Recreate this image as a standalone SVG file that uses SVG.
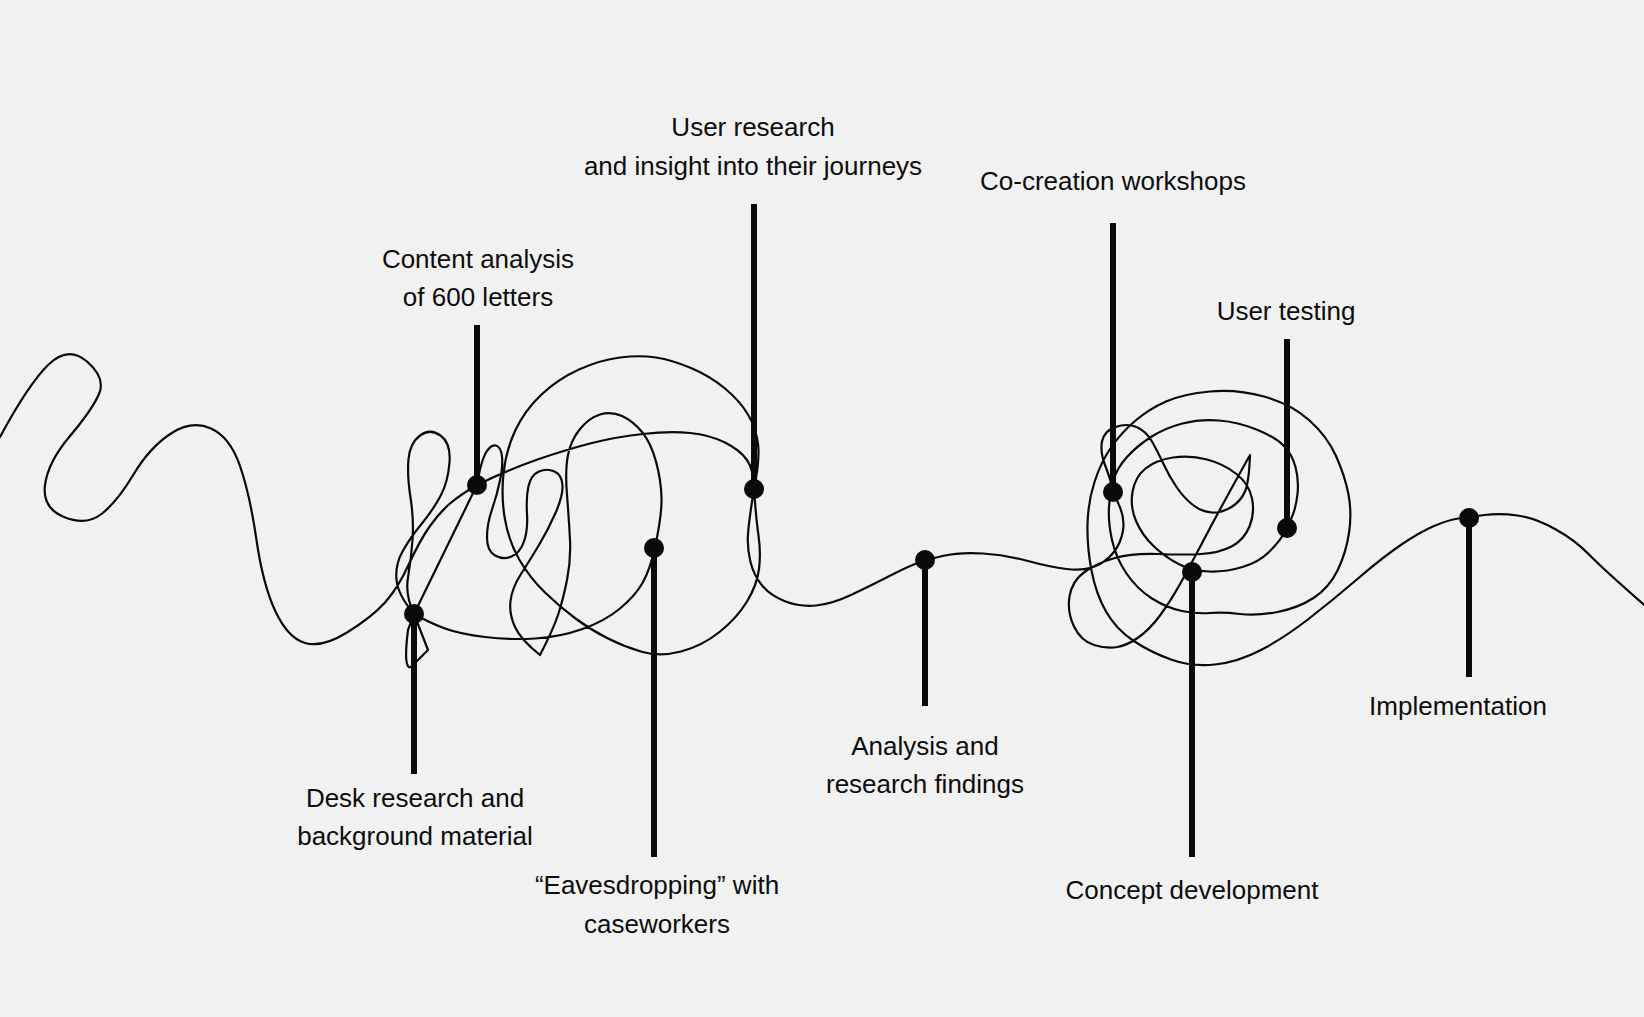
<svg xmlns="http://www.w3.org/2000/svg" width="1644" height="1017" viewBox="0 0 1644 1017">
<style>
.curve{fill:none;stroke:#0a0a0a;stroke-width:2.2;stroke-linejoin:round;stroke-linecap:round}
.stem{stroke:#0a0a0a;stroke-width:6}
.dot{fill:#0a0a0a}
.lbl{font-family:"Liberation Sans",Arial,sans-serif;font-size:26px;fill:#0d0d0d;text-anchor:middle}
</style>
<rect width="1644" height="1017" fill="#f0f1f0"/>
<g id="connectors">
<path class="curve" d="M0,437 Q28,385 48,365 Q68,345 87,361.5 Q106,378 99,394 Q92,410 70,436 Q48,462 45,485 Q42,508 64,517 Q86,526 101.5,514 Q117,502 133.5,474.5 Q150,447 171,433.5 Q192,420 211,428.5 Q230,437 240,466 Q250,495 256.5,540 Q263,585 275.5,611.5 Q288,638 305,643 Q322,648 347,632.5 Q372,617 385,602.5 Q398,588 409,564 Q420,540 430,526 Q440,512 450,503.5 Q460,495 477,485
L414,614 L408,630 Q403,670 411,667 L428,650 L414,614
Q405,595 408,577.5 Q411,560 412.5,540 Q414,520 410.5,497.5 Q407,475 408.5,459 Q410,443 420,435.5 Q430,428 440.5,435.5 Q451,443 449.5,462.5 Q448,482 440.5,496 Q433,510 421.5,524 Q410,538 402.5,551.5 Q395,565 396.5,580 Q398,595 414,614
Q430,623 445,628.5 Q460,634 485,637 Q510,640 535,638.5 Q560,637 582.5,629 Q605,621 620,608.5 Q635,596 642.5,583 Q650,570 655,547
Q662,515 661.5,497.5 Q661,480 656,461.5 Q651,443 642,432 Q633,421 622,416 Q611,411 600,414.5 Q589,418 580,429 Q571,440 568,455 Q565,470 567,495 Q569,520 570,540 Q571,560 567,580 Q563,600 558,615 Q553,630 540,655
Q521,640 515,627 Q509,614 510.5,601 Q512,588 521,574 Q530,560 539,545 Q548,530 555.5,513 Q563,496 562.5,485.5 Q562,475 554.5,471.5 Q547,468 539,471.5 Q531,475 528.5,486 Q526,497 527,513.5 Q528,530 524,541.5 Q520,553 511.5,556.5 Q503,560 495,555.5 Q487,551 487,537.5 Q487,524 492,509.5 Q497,495 500,480.5 Q503,466 502,456.5 Q501,447 496,445.5 Q491,444 486,452.5 Q481,461 477,485
Q510,469 537.5,459.5 Q565,450 590,443.5 Q615,437 642.5,434 Q670,431 690,433 Q710,435 725,442.5 Q740,450 747,460 Q754,470 754,489
Q760,460 758,444 Q756,428 748,414.5 Q740,401 725,388.5 Q710,376 691,368 Q672,360 656,357.5 Q640,355 620,357.5 Q600,360 579,369.5 Q558,379 541.5,394.5 Q525,410 515.5,430 Q506,450 503.5,473.5 Q501,497 505,519.5 Q509,542 519.5,560 Q530,578 545,592.5 Q560,607 575.5,618.5 Q591,630 608,638.5 Q625,647 642.5,652 Q660,657 681,651.5 Q702,646 719.5,632 Q737,618 747,601.5 Q757,585 759,569 Q761,553 758.5,535.5 Q756,518 754,489
Q749,520 748,534 Q747,548 750.5,562 Q754,576 762.5,586 Q771,596 785.5,601.5 Q800,607 816,605.5 Q832,604 852,594.5 Q872,585 888.5,576.5 Q905,568 915,564 Q925,560 942.5,556 Q960,552 983,553.5 Q1006,555 1028,561 Q1050,567 1066.5,569 Q1083,571 1094.5,566.5 Q1106,562 1113.5,552.5 Q1121,543 1123,530.5 Q1125,518 1119,505 Q1113,492 1111.5,485 Q1110,478 1105,465 Q1100,452 1102,441.5 Q1104,431 1115.5,427 Q1127,423 1136.5,427 Q1146,431 1152,441.5 Q1158,452 1163.5,464 Q1169,476 1176.5,487 Q1184,498 1193,505 Q1202,512 1212,512.5 Q1222,513 1231.5,507 Q1241,501 1245,491.5 Q1249,482 1250,455
Q1221,507 1205,537.5 Q1189,568 1179.5,585 Q1170,602 1160,615.5 Q1150,629 1139,637 Q1128,645 1117.5,647 Q1107,649 1094,645 Q1081,641 1074,626.5 Q1067,612 1069.5,596.5 Q1072,581 1084.5,572 Q1097,563 1115,558 Q1133,553 1158,554 Q1183,555 1201,554 Q1219,553 1231.5,546.5 Q1244,540 1249.5,526.5 Q1255,513 1252,498.5 Q1249,484 1236.5,474 Q1224,464 1207,459.5 Q1190,455 1173,457.5 Q1156,460 1145.5,468.5 Q1135,477 1132.5,492 Q1130,507 1136,521 Q1142,535 1153.5,546 Q1165,557 1178.5,564 Q1192,571 1209,571.5 Q1226,572 1242.5,567 Q1259,562 1269,552 Q1279,542 1283,535 Q1287,528 1291.5,518 Q1296,508 1297.5,494 Q1299,480 1295.5,467 Q1292,454 1283.5,445.5 Q1275,437 1256.5,429.5 Q1238,422 1219,420.5 Q1200,419 1182.5,423.5 Q1165,428 1151,437 Q1137,446 1127,457 Q1117,468 1113.5,480 Q1110,492 1109,507 Q1108,522 1112,540 Q1116,558 1126.5,573.5 Q1137,589 1152,598.5 Q1167,608 1182,611 Q1197,614 1210,613 Q1223,612 1240,614 Q1257,616 1277.5,612 Q1298,608 1313.5,598 Q1329,588 1337.5,570.5 Q1346,553 1349,533 Q1352,513 1348.5,494.5 Q1345,476 1336,456 Q1327,436 1309,420 Q1291,404 1264,396.5 Q1237,389 1210,391.5 Q1183,394 1166,401.5 Q1149,409 1135,421 Q1121,433 1111,447.5 Q1101,462 1094.5,482 Q1088,502 1087.5,524.5 Q1087,547 1091.5,570.5 Q1096,594 1106,611.5 Q1116,629 1133,640.5 Q1150,652 1171,659.5 Q1192,667 1215,664.5 Q1238,662 1261,650 Q1284,638 1308.5,619 Q1333,600 1358,578.5 Q1383,557 1401.5,544.5 Q1420,532 1434,526 Q1448,520 1458.5,518.5 Q1469,517 1484.5,515 Q1500,513 1517.5,515.5 Q1535,518 1555,529 Q1575,540 1589,554.5 Q1603,569 1650,610"/>
</g>
<g id="node-desk-research">
<line class="stem" x1="414" y1="614" x2="414" y2="774"/>
<circle class="dot" cx="414" cy="614" r="10"/>
<text class="lbl" x="415" y="807">Desk research and</text>
<text class="lbl" x="415" y="845">background material</text>
</g>
<g id="node-content-analysis">
<line class="stem" x1="477" y1="485" x2="477" y2="325"/>
<circle class="dot" cx="477" cy="485" r="10"/>
<text class="lbl" x="478" y="268">Content analysis</text>
<text class="lbl" x="478" y="306">of 600 letters</text>
</g>
<g id="node-eavesdropping">
<line class="stem" x1="654" y1="548" x2="654" y2="857"/>
<circle class="dot" cx="654" cy="548" r="10"/>
<text class="lbl" x="657" y="894">“Eavesdropping” with</text>
<text class="lbl" x="657" y="933">caseworkers</text>
</g>
<g id="node-user-research">
<line class="stem" x1="754" y1="489" x2="754" y2="204"/>
<circle class="dot" cx="754" cy="489" r="10"/>
<text class="lbl" x="753" y="136">User research</text>
<text class="lbl" x="753" y="175">and insight into their journeys</text>
</g>
<g id="node-analysis">
<line class="stem" x1="925" y1="560" x2="925" y2="706"/>
<circle class="dot" cx="925" cy="560" r="10"/>
<text class="lbl" x="925" y="755">Analysis and</text>
<text class="lbl" x="925" y="793">research findings</text>
</g>
<g id="node-co-creation">
<line class="stem" x1="1113" y1="492" x2="1113" y2="223"/>
<circle class="dot" cx="1113" cy="492" r="10"/>
<text class="lbl" x="1113" y="190">Co-creation workshops</text>
</g>
<g id="node-concept">
<line class="stem" x1="1192" y1="572" x2="1192" y2="857"/>
<circle class="dot" cx="1192" cy="572" r="10"/>
<text class="lbl" x="1192" y="899">Concept development</text>
</g>
<g id="node-user-testing">
<line class="stem" x1="1287" y1="528" x2="1287" y2="339"/>
<circle class="dot" cx="1287" cy="528" r="10"/>
<text class="lbl" x="1286" y="320">User testing</text>
</g>
<g id="node-implementation">
<line class="stem" x1="1469" y1="518" x2="1469" y2="677"/>
<circle class="dot" cx="1469" cy="518" r="10"/>
<text class="lbl" x="1458" y="715">Implementation</text>
</g>
</svg>
